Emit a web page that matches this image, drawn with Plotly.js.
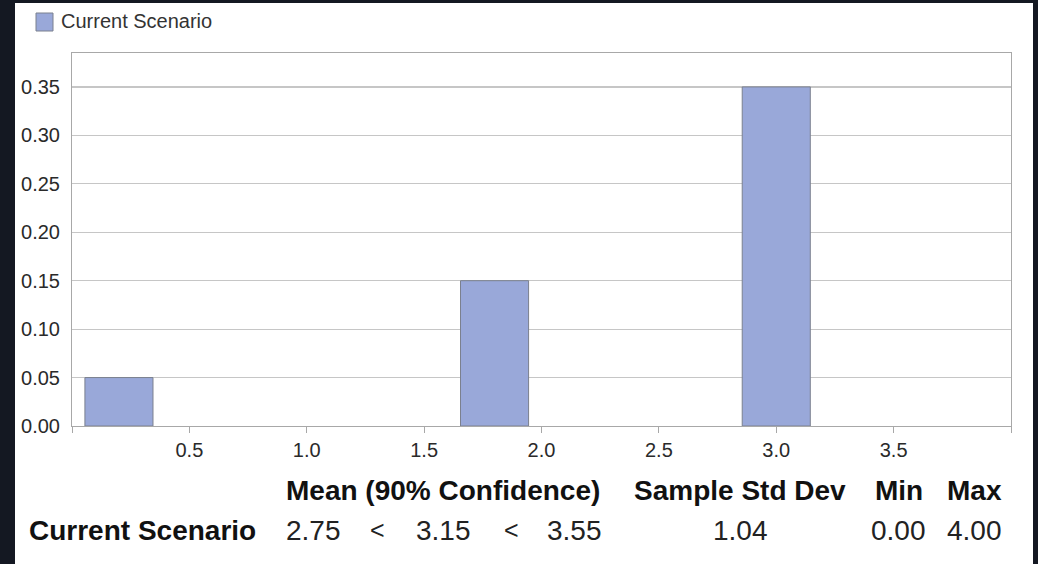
<!DOCTYPE html>
<html>
<head>
<meta charset="utf-8">
<script src="https://cdn.plot.ly/plotly-3.0.1.min.js"></script>
<style>
  html, body { margin: 0; padding: 0; background: #141822; width: 1038px; height: 564px; overflow: hidden; }
  #chart { position: absolute; left: 15px; top: 3px; width: 1018px; height: 561px; background: #ffffff; }
</style>
</head>
<body>
<div id="chart"></div>
<script>
// ---- data ----
const seriesName = 'Current Scenario';
const binCenters = [0.2, 1.8, 3.0];
const probabilities = [0.05, 0.15, 0.35];
const binWidth = 0.29;
const xTickVals = [0, 0.5, 1.0, 1.5, 2.0, 2.5, 3.0, 3.5, 4.0];
const xTickText = ['', '0.5', '1.0', '1.5', '2.0', '2.5', '3.0', '3.5', ''];
const yTickVals = [0, 0.05, 0.10, 0.15, 0.20, 0.25, 0.30, 0.35];
const statHeaders = ['Mean (90% Confidence)', 'Sample Std Dev', 'Min', 'Max'];
const rowLabel = 'Current Scenario';
const meanLow = '2.75', meanVal = '3.15', meanHigh = '3.55';
const stdDev = '1.04', minVal = '0.00', maxVal = '4.00';

// ---- layout helpers (page pixels -> paper coords) ----
const PL = 72, PR = 1011, PT = 53, PB = 426;
const px = x => (x - PL) / (PR - PL);
const py = y => (PB - y) / (PB - PT);

const barColor = '#99a8d9', barLine = '#7b808e';

const trace = {
  type: 'bar',
  name: seriesName,
  x: binCenters,
  y: probabilities,
  width: binCenters.map(() => binWidth),
  marker: { color: barColor, line: { color: barLine, width: 1 } },
  showlegend: false,
  hoverinfo: 'x+y'
};

const hdrFont = { family: 'Liberation Sans, Arial, sans-serif', size: 28, color: '#111111' };
const valFont = { family: 'Liberation Sans, Arial, sans-serif', size: 28, color: '#222222' };

const annotations = [];
const hdrY = py(491), rowY = py(530);
const hdrX = [443, 740, 899, 974];
statHeaders.forEach((t, i) => annotations.push({
  xref: 'paper', yref: 'paper', x: px(hdrX[i]), y: hdrY, xanchor: 'center', yanchor: 'middle',
  text: '<b>' + t + '</b>', showarrow: false, font: hdrFont
}));
annotations.push({
  xref: 'paper', yref: 'paper', x: px(27), y: rowY, xanchor: 'left', yanchor: 'middle',
  text: '<b>' + rowLabel + '</b>', showarrow: false, font: hdrFont
});
const rowTexts = [meanLow, '<', meanVal, '<', meanHigh, stdDev, minVal, maxVal];
const rowX = [313, 377, 443, 511, 574, 740, 898, 974];
rowTexts.forEach((t, i) => annotations.push({
  xref: 'paper', yref: 'paper', x: px(rowX[i]), y: rowY, xanchor: 'center', yanchor: 'middle',
  text: t === '<' ? '&lt;' : t, showarrow: false,
  font: t === '<' ? Object.assign({}, valFont, { size: 25 }) : valFont
}));
// legend label
annotations.push({
  xref: 'paper', yref: 'paper', x: px(59), y: py(21), xanchor: 'left', yanchor: 'middle',
  text: seriesName, showarrow: false,
  font: { family: 'Liberation Sans, Arial, sans-serif', size: 20, color: '#333333' }
});

const shapes = [{
  type: 'rect', xref: 'paper', yref: 'paper',
  x0: px(36), x1: px(53), y0: py(31), y1: py(13),
  fillcolor: barColor, line: { color: barLine, width: 1 }
}];

const tickFont = { family: 'Liberation Sans, Arial, sans-serif', size: 20, color: '#2a2a2a' };

const layout = {
  width: 1018, height: 561,
  margin: { l: 57, r: 22, t: 50, b: 138, pad: 0 },
  paper_bgcolor: '#ffffff',
  plot_bgcolor: '#ffffff',
  bargap: 0,
  showlegend: false,
  xaxis: {
    range: [0, 4.0], tickvals: xTickVals, ticktext: xTickText,
    showline: true, linecolor: '#a8a8a8', linewidth: 1, mirror: true,
    ticks: 'outside', ticklen: 6, tickcolor: '#a8a8a8',
    showgrid: false, zeroline: false, tickfont: tickFont
  },
  yaxis: {
    range: [0, 0.385], tickvals: yTickVals, tickformat: '.2f',
    showline: true, linecolor: '#a8a8a8', linewidth: 1, mirror: true,
    ticks: 'outside', ticklen: 7, tickcolor: 'rgba(0,0,0,0)',
    showgrid: true, gridcolor: '#c6c6c6', gridwidth: 1.2, zeroline: false, tickfont: tickFont
  },
  shapes: shapes,
  annotations: annotations
};

Plotly.newPlot('chart', [trace], layout, { displayModeBar: false, staticPlot: true });
</script>
</body>
</html>
